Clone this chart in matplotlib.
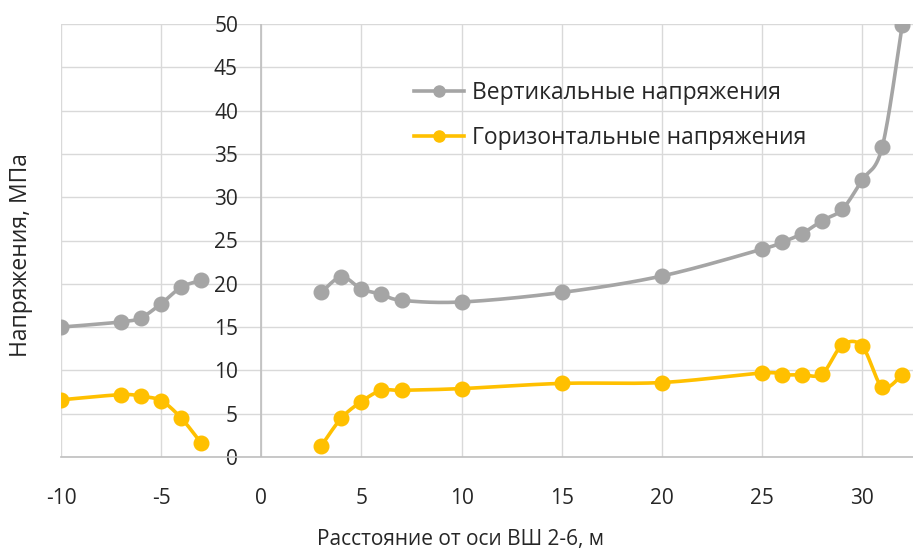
import numpy as np
import matplotlib
matplotlib.use("Agg")
import matplotlib.pyplot as plt
import matplotlib.transforms as mtrans
from matplotlib.lines import Line2D

plt.rcParams['font.family'] = ['Open Sans', 'DejaVu Sans']

# Distance from the shaft axis, m (two branches on either side of the shaft)
x_left = [-10, -7, -6, -5, -4, -3]
x_right = [3, 4, 5, 6, 7, 10, 15, 20, 25, 26, 27, 28, 29, 30, 31, 32]

# Vertical stresses, MPa
vert_left = [15.0, 15.6, 16.1, 17.7, 19.6, 20.4]
vert_right = [19.0, 20.8, 19.4, 18.8, 18.1, 17.9, 19.0, 20.9,
              24.0, 24.8, 25.8, 27.3, 28.6, 32.0, 35.8, 49.9]

# Horizontal stresses, MPa
hor_left = [6.6, 7.2, 7.0, 6.5, 4.5, 1.6]
hor_right = [1.3, 4.5, 6.4, 7.7, 7.7, 7.9, 8.5, 8.6,
             9.7, 9.5, 9.5, 9.6, 12.9, 12.8, 8.1, 9.5]

x_ticks = [-10, -5, 0, 5, 10, 15, 20, 25, 30]
y_ticks = [0, 5, 10, 15, 20, 25, 30, 35, 40, 45, 50]

GRAY = '#A5A5A5'
GOLD = '#FFC000'
TEXT = '#262626'


def smooth_curve(xs, ys, n=30, tension=1 / 6):
    """Cardinal Bezier smoothing through every point ('smoothed line')."""
    xs = np.asarray(xs, float)
    ys = np.asarray(ys, float)
    px, py = [], []
    m = len(xs)
    t = np.linspace(0, 1, n)
    for i in range(m - 1):
        p0 = np.array([xs[max(i - 1, 0)], ys[max(i - 1, 0)]])
        p1 = np.array([xs[i], ys[i]])
        p2 = np.array([xs[i + 1], ys[i + 1]])
        p3 = np.array([xs[min(i + 2, m - 1)], ys[min(i + 2, m - 1)]])
        c1 = p1 + (p2 - p0) * tension
        c2 = p2 - (p3 - p1) * tension
        b = ((1 - t) ** 3)[:, None] * p1 + (3 * (1 - t) ** 2 * t)[:, None] * c1 \
            + (3 * (1 - t) * t ** 2)[:, None] * c2 + (t ** 3)[:, None] * p2
        px.extend(b[:, 0])
        py.extend(b[:, 1])
    return px, py


fig = plt.figure(figsize=(9.13, 5.51), dpi=100)
ax = fig.add_axes([61 / 913, 1 - 457 / 551, (913 - 61) / 913, (457 - 24) / 551])

for xs, ys in [(x_left, vert_left), (x_right, vert_right)]:
    sx, sy = smooth_curve(xs, ys)
    ax.plot(sx, sy, color=GRAY, lw=2.6, zorder=3, solid_capstyle='round')
    ax.plot(xs, ys, 'o', color=GRAY, ms=10.5, zorder=4)

for xs, ys in [(x_left, hor_left), (x_right, hor_right)]:
    sx, sy = smooth_curve(xs, ys)
    ax.plot(sx, sy, color=GOLD, lw=2.6, zorder=3, solid_capstyle='round')
    ax.plot(xs, ys, 'o', color=GOLD, ms=10.5, zorder=4)

ax.set_xlim(-10, -10 + (913 - 61) / 20.03)
ax.set_ylim(0, 50)
ax.set_xticks(x_ticks)
ax.set_yticks(y_ticks)
ax.set_xticklabels([str(v) for v in x_ticks])
ax.set_yticklabels([str(v) for v in y_ticks])
ax.grid(True, color='#D9D9D9', lw=1.0)
ax.set_axisbelow(True)

for s in ['top', 'right', 'left']:
    ax.spines[s].set_visible(False)
ax.spines['bottom'].set_color('#BFBFBF')
ax.spines['bottom'].set_linewidth(1.2)
ax.axvline(0, color='#BFBFBF', lw=1.2, zorder=2)

ax.tick_params(axis='both', length=0, labelsize=15, colors=TEXT)
ax.tick_params(axis='x', pad=22)
ax.tick_params(axis='y', pad=0)
# y tick labels sit just left of the x=0 axis line
offset = mtrans.ScaledTranslation((262 - 61 - 24) / 100, 0, fig.dpi_scale_trans)
for lab in ax.get_yticklabels():
    lab.set_horizontalalignment('right')
    lab.set_transform(lab.get_transform() + offset)

fig.text(460 / 913, 1 - 540 / 551, 'Расстояние от оси ВШ 2-6, м',
         ha='center', va='center', fontsize=15, color=TEXT)
fig.text(21 / 913, 1 - 255 / 551, 'Напряжения, МПа', rotation=90,
         ha='center', va='center', fontsize=16.5, color=TEXT)

handles = [
    Line2D([], [], color=GRAY, lw=2.6, marker='o', ms=8),
    Line2D([], [], color=GOLD, lw=2.6, marker='o', ms=8),
]
ax.legend(handles, ['Вертикальные напряжения', 'Горизонтальные напряжения'],
          loc='upper left', bbox_to_anchor=((393 - 61) / (913 - 61), 1 - (60 - 24) / 433),
          frameon=False, fontsize=16.5, handlelength=2.2, handletextpad=0.35,
          labelspacing=0.92, labelcolor=TEXT)

fig.savefig('out.png', dpi=100)
